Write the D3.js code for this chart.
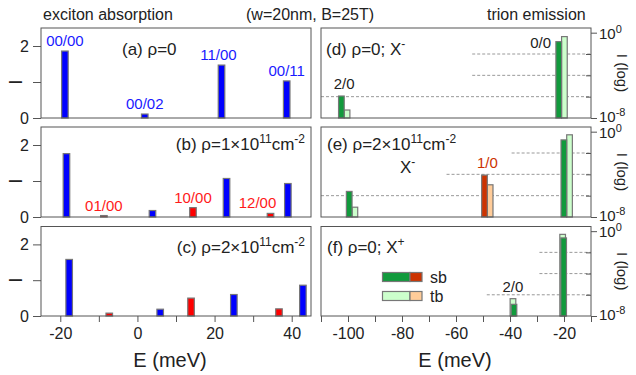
<!DOCTYPE html>
<html lang="en">
<head>
<meta charset="utf-8">
<title>exciton absorption / trion emission</title>
<script src="https://cdn.jsdelivr.net/npm/d3@7"></script>
<style>
  body { margin: 0; background: #fff; }
  svg { display: block; font-family: "Liberation Sans", Arial, sans-serif; }
  .frame { fill: none; stroke: #555; stroke-width: 1; }
  .axis path { display: none; }
  .axis line { stroke: #555; }
  .axis text { font-family: "Liberation Sans", Arial, sans-serif; fill: #222; }
  .grid { stroke: #999; stroke-dasharray: 3,2; stroke-width: 1; }
</style>
</head>
<body>
<script>
// ---- data: exciton absorption (left, linear intensity) ----
const absA_E = [-18.8, 1.9, 21.8, 38.7];
const absA_I = [1.86, 0.11, 1.47, 1.03];
const absA_kind = ["b", "b", "b", "b"];
const absA_lab = ["00/00", "00/02", "11/00", "00/11"];

const absB_E = [-18.4, -8.7, 3.9, 14.4, 23.1, 34.5, 39.0];
const absB_I = [1.76, 0.04, 0.18, 0.26, 1.07, 0.10, 0.93];
const absB_kind = ["b", "r", "b", "r", "b", "r", "b"];
const absB_lab = ["", "01/00", "", "10/00", "", "12/00", ""];

const absC_E = [-17.7, -7.3, 5.9, 13.9, 25.0, 36.7, 42.9];
const absC_I = [1.58, 0.08, 0.19, 0.50, 0.60, 0.20, 0.86];
const absC_kind = ["b", "r", "b", "r", "b", "r", "b"];
const absC_lab = ["", "", "", "", "", "", ""];

// ---- data: trion emission (right, log intensity), sb / tb ----
const emD_E = [-101.4, -20.9];
const emD_sb = [1.15e-6, 0.145];
const emD_tb = [5.6e-8, 0.43];
const emD_kind = ["g", "g"];
const emD_lab = ["2/0", "0/0"];

const emE_E = [-98.5, -48.4, -19.0];
const emE_sb = [2.5e-6, 8.5e-5, 0.17];
const emE_tb = [8.3e-8, 1.05e-5, 0.51];
const emE_kind = ["g", "r", "g"];
const emE_lab = ["", "1/0", ""];

const emF_E = [-38.9, -20.5];
const emF_sb = [1.26e-7, 0.23];
const emF_tb = [4.3e-7, 0.5];
const emF_kind = ["g", "g"];
const emF_lab = ["2/0", ""];

// dashed guide lines: [intensity, start energy]
const gridD = [[1e-2, -54], [1e-4, -54], [1e-6, -110]];
const gridE = [[1e-2, -39.4], [1e-4, -63.5], [1e-6, -110]];
const gridF = [[1e-2, -29.1], [1e-4, -29.1], [1e-6, -48.6]];

const leftTicks = [-20, -10, 0, 10, 20, 30, 40];
const rightTicks = [-110, -100, -90, -80, -70, -60, -50, -40, -30, -20, -10];

// ---- layout ----
const W = 636, H = 375;
const LX0 = 41, LX1 = 311, RX0 = 321, RX1 = 591;
const rows = [[28, 118], [127, 217], [226.5, 316]];

const absColor = {b: "#0000ff", r: "#ff0000"};
const sbColor = {g: "#119a3c", r: "#cc3300"};
const tbColor = {g: "#ccffcc", r: "#ffcc99"};
const labColor = {b: "#1a1aff", r: "#ff1a1a", g: "#222", rr: "#cc3300"};

const svg = d3.select("body").append("svg").attr("width", W).attr("height", H);

const xL = d3.scaleLinear().domain([-25, 45]).range([LX0, LX1]);
const xR = d3.scaleLinear().domain([-110, -10]).range([RX0, RX1]);

// titles
svg.append("text").attr("x", 43).attr("y", 20).attr("font-size", 16).attr("fill", "#222").text("exciton absorption");
svg.append("text").attr("x", 246).attr("y", 20).attr("font-size", 16).attr("fill", "#222").text("(w=20nm, B=25T)");
svg.append("text").attr("x", 487).attr("y", 20).attr("font-size", 16).attr("fill", "#222").text("trion emission");

// panel label helper: parts = [[text, "n"|"sup"|"back"]]
function label(g, x, y, parts, anchor) {
  const t = g.append("text").attr("x", x).attr("y", y).attr("font-size", 17)
    .attr("fill", "#222").attr("text-anchor", anchor || "start");
  parts.forEach(p => {
    const s = t.append("tspan").text(p[0]);
    if (p[1] === "sup") s.attr("font-size", 12).attr("dy", -7);
    else if (p[1] === "back") s.attr("dy", 7);
  });
  return t;
}

// ---- left panels ----
const absPanels = [
  {E: absA_E, I: absA_I, kind: absA_kind, lab: absA_lab},
  {E: absB_E, I: absB_I, kind: absB_kind, lab: absB_lab},
  {E: absC_E, I: absC_I, kind: absC_kind, lab: absC_lab}
];
// small label nudges (px) for crowded labels
const absLabDx = {"11/00": -3, "12/00": -13};
const barWL = 1.7;

absPanels.forEach((p, i) => {
  const [y0, y1] = rows[i];
  const y = d3.scaleLinear().domain([0, 2.5]).range([y1, y0]);
  const g = svg.append("g");
  const data = p.E.map((e, j) => ({E: e, I: p.I[j], kind: p.kind[j], lab: p.lab[j]}));

  g.selectAll("rect.bar").data(data).join("rect")
    .attr("class", "bar")
    .attr("x", d => xL(d.E - barWL / 2))
    .attr("width", d => xL(d.E + barWL / 2) - xL(d.E - barWL / 2))
    .attr("y", d => y(d.I))
    .attr("height", d => y(0) - y(d.I))
    .attr("fill", d => absColor[d.kind])
    .attr("stroke", "#777").attr("stroke-width", 1.2);

  g.selectAll("text.blab").data(data.filter(d => d.lab)).join("text")
    .attr("class", "blab")
    .attr("x", d => xL(d.E) + (absLabDx[d.lab] || 0))
    .attr("y", d => y(d.I) - 5)
    .attr("text-anchor", "middle").attr("font-size", 15)
    .attr("fill", d => labColor[d.kind])
    .text(d => d.lab);

  g.append("rect").attr("class", "frame")
    .attr("x", LX0).attr("y", y0).attr("width", LX1 - LX0).attr("height", y1 - y0);

  g.append("g").attr("class", "axis").attr("transform", `translate(${LX0},0)`)
    .call(d3.axisLeft(y).tickValues([0, 1, 2]).tickSize(8).tickPadding(4)
      .tickFormat(d => d === 1 ? "" : d))
    .selectAll("text").attr("font-size", 16);

  svg.append("text").attr("transform", `translate(22,${y(1)}) rotate(-90)`)
    .attr("text-anchor", "middle").attr("font-size", 19).attr("fill", "#222").text("I");

  if (i === 2) {
    g.append("g").attr("class", "axis").attr("transform", `translate(0,${y1})`)
      .call(d3.axisBottom(xL).tickValues(leftTicks).tickSize(6).tickPadding(6)
        .tickFormat(d => d % 20 === 0 ? d : ""))
      .selectAll("text").attr("font-size", 16);
  }
});

label(svg, 122, 55, [["(a) ρ=0", "n"]]);
label(svg, 305, 150, [["(b) ρ=1×10", "n"], ["11", "sup"], ["cm", "back"], ["-2", "sup"]], "end");
label(svg, 305, 253, [["(c) ρ=2×10", "n"], ["11", "sup"], ["cm", "back"], ["-2", "sup"]], "end");

// ---- right panels ----
const emPanels = [
  {E: emD_E, sb: emD_sb, tb: emD_tb, kind: emD_kind, lab: emD_lab, grid: gridD, overlap: false},
  {E: emE_E, sb: emE_sb, tb: emE_tb, kind: emE_kind, lab: emE_lab, grid: gridE, overlap: false},
  {E: emF_E, sb: emF_sb, tb: emF_tb, kind: emF_kind, lab: emF_lab, grid: gridF, overlap: true}
];
const barWR = 2.1;
// label nudges (px): 0/0 sits to the left of its bar
const emLabNudge = {"0/0": [-21, 18]};

emPanels.forEach((p, i) => {
  const [y0, y1] = rows[i];
  const y = d3.scaleLog().domain([1e-8, 2.75]).range([y1, y0]);
  const g = svg.append("g");
  const data = p.E.map((e, j) => ({E: e, sb: p.sb[j], tb: p.tb[j], kind: p.kind[j], lab: p.lab[j]}));

  g.selectAll("line.grid").data(p.grid).join("line")
    .attr("class", "grid")
    .attr("x1", d => xR(d[1])).attr("x2", RX1)
    .attr("y1", d => y(d[0])).attr("y2", d => y(d[0]));

  // tb bars (behind)
  g.selectAll("rect.tb").data(data).join("rect")
    .attr("class", "tb")
    .attr("x", d => p.overlap ? xR(d.E - barWR / 2) : xR(d.E))
    .attr("width", xR(barWR) - xR(0))
    .attr("y", d => y(d.tb))
    .attr("height", d => y1 - y(d.tb))
    .attr("fill", d => tbColor[d.kind])
    .attr("stroke", "#777").attr("stroke-width", 1.2);

  g.selectAll("rect.sb").data(data).join("rect")
    .attr("class", "sb")
    .attr("x", d => p.overlap ? xR(d.E - barWR / 2) + 1 : xR(d.E - barWR))
    .attr("width", xR(barWR) - xR(0))
    .attr("y", d => y(d.sb))
    .attr("height", d => y1 - y(d.sb))
    .attr("fill", d => sbColor[d.kind])
    .attr("stroke", "#777").attr("stroke-width", 1.2);

  g.selectAll("text.elab").data(data.filter(d => d.lab)).join("text")
    .attr("class", "elab")
    .attr("x", d => xR(d.E) + (emLabNudge[d.lab] ? emLabNudge[d.lab][0] : 0))
    .attr("y", d => y(Math.max(d.sb, d.tb)) - 7 + (emLabNudge[d.lab] ? emLabNudge[d.lab][1] : 0))
    .attr("text-anchor", "middle").attr("font-size", 15)
    .attr("fill", d => d.kind === "r" ? labColor.rr : labColor.g)
    .text(d => d.lab);

  g.append("rect").attr("class", "frame")
    .attr("x", RX0).attr("y", y0).attr("width", RX1 - RX0).attr("height", y1 - y0);

  // outer ticks at 10^0, 10^-8 and inner ticks in between
  g.append("g").attr("class", "axis").attr("transform", `translate(${RX1},0)`)
    .call(d3.axisRight(y).tickValues([1, 1e-8]).tickSize(6).tickFormat(""));
  g.append("g").attr("class", "axis").attr("transform", `translate(${RX1},0)`)
    .call(d3.axisRight(y).tickValues([1e-2, 1e-4, 1e-6]).tickSize(-5).tickFormat(""));

  [[1, "0", 6], [1e-8, "-8", 4]].forEach(t => {
    const tx = g.append("text").attr("x", RX1 + 8).attr("y", y(t[0]) + t[2])
      .attr("font-size", 15).attr("fill", "#222");
    tx.append("tspan").text("10");
    tx.append("tspan").attr("font-size", 11).attr("dy", -6).text(t[1]);
  });

  svg.append("text").attr("transform", `translate(617,${(y0 + y1) / 2}) rotate(90)`)
    .attr("text-anchor", "middle").attr("font-size", 15).attr("fill", "#222").text("I (log)");

  if (i === 2) {
    g.append("g").attr("class", "axis").attr("transform", `translate(0,${y1})`)
      .call(d3.axisBottom(xR).tickValues(rightTicks).tickSize(6).tickPadding(6)
        .tickFormat(d => (d % 20 === 0 && d > -110) ? d : ""))
      .selectAll("text").attr("font-size", 16);
  }
});

label(svg, 326, 55, [["(d) ρ=0; X", "n"], ["-", "sup"]]);
label(svg, 327, 150, [["(e) ρ=2×10", "n"], ["11", "sup"], ["cm", "back"], ["-2", "sup"]]);
label(svg, 400, 173, [["X", "n"], ["-", "sup"]]);
label(svg, 327, 253, [["(f) ρ=0; X", "n"], ["+", "sup"]]);

// legend in (f)
const legRows = [["sb", sbColor], ["tb", tbColor]];
legRows.forEach((r, k) => {
  const ly = 272.5 + k * 19;
  svg.append("rect").attr("x", 382.5).attr("y", ly).attr("width", 27.5).attr("height", 9)
    .attr("fill", r[1].g).attr("stroke", "#777").attr("stroke-width", 1.2);
  svg.append("rect").attr("x", 410).attr("y", ly).attr("width", 12).attr("height", 9)
    .attr("fill", r[1].r).attr("stroke", "#777").attr("stroke-width", 1.2);
  svg.append("text").attr("x", 430).attr("y", ly + 10).attr("font-size", 16)
    .attr("fill", "#222").text(r[0]);
});

// axis titles
svg.append("text").attr("x", 170).attr("y", 367).attr("text-anchor", "middle")
  .attr("font-size", 20).attr("fill", "#222").text("E (meV)");
svg.append("text").attr("x", 455).attr("y", 367).attr("text-anchor", "middle")
  .attr("font-size", 20).attr("fill", "#222").text("E (meV)");
</script>
</body>
</html>
